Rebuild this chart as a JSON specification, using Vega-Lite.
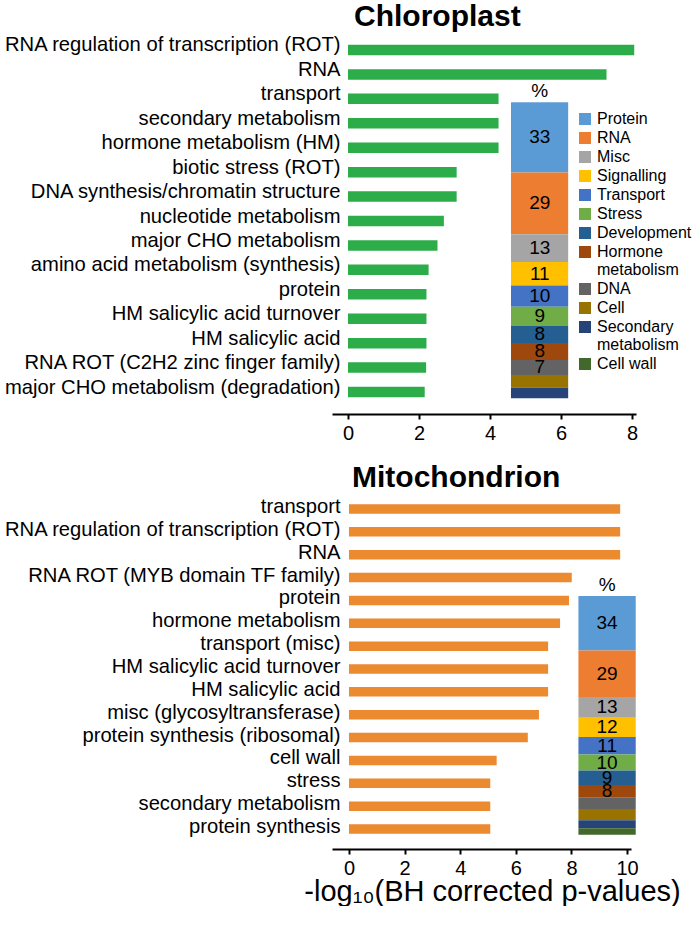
{
  "$schema": "https://vega.github.io/schema/vega-lite/v6.json",
  "padding": {"left": 3, "top": 2, "right": 0, "bottom": 0},
  "background": "white",
  "config": {
    "font": "Liberation Sans",
    "view": {"stroke": null},
    "axis": {"labelColor": "black", "titleColor": "black", "grid": false},
    "title": {"color": "black"}
  },
  "datasets": {
    "chloro": [
      {"term": "RNA regulation of transcription (ROT)", "value": 8.06},
      {"term": "RNA", "value": 7.28},
      {"term": "transport", "value": 4.24},
      {"term": "secondary metabolism", "value": 4.24},
      {"term": "hormone metabolism (HM)", "value": 4.24},
      {"term": "biotic stress (ROT)", "value": 3.06},
      {"term": "DNA synthesis/chromatin structure", "value": 3.06},
      {"term": "nucleotide metabolism", "value": 2.70},
      {"term": "major CHO metabolism", "value": 2.52},
      {"term": "amino acid metabolism (synthesis)", "value": 2.27},
      {"term": "protein", "value": 2.21},
      {"term": "HM salicylic acid turnover", "value": 2.21},
      {"term": "HM salicylic acid", "value": 2.21},
      {"term": "RNA ROT (C2H2 zinc finger family)", "value": 2.20},
      {"term": "major CHO metabolism (degradation)", "value": 2.16}
    ],
    "chloroPct": [
      {"category": "Protein", "rank": 1, "value": 33},
      {"category": "RNA", "rank": 2, "value": 29},
      {"category": "Misc", "rank": 3, "value": 13},
      {"category": "Signalling", "rank": 4, "value": 11},
      {"category": "Transport", "rank": 5, "value": 10},
      {"category": "Stress", "rank": 6, "value": 9},
      {"category": "Development", "rank": 7, "value": 8},
      {"category": "Hormone metabolism", "rank": 8, "value": 8},
      {"category": "DNA", "rank": 9, "value": 7},
      {"category": "Cell", "rank": 10, "value": 6},
      {"category": "Secondary metabolism", "rank": 11, "value": 5}
    ],
    "mito": [
      {"term": "transport", "value": 9.75},
      {"term": "RNA regulation of transcription (ROT)", "value": 9.75},
      {"term": "RNA", "value": 9.75},
      {"term": "RNA ROT (MYB domain TF family)", "value": 8.01},
      {"term": "protein", "value": 7.91},
      {"term": "hormone metabolism", "value": 7.59},
      {"term": "transport (misc)", "value": 7.16},
      {"term": "HM salicylic acid turnover", "value": 7.16},
      {"term": "HM salicylic acid", "value": 7.16},
      {"term": "misc (glycosyltransferase)", "value": 6.83},
      {"term": "protein synthesis (ribosomal)", "value": 6.43},
      {"term": "cell wall", "value": 5.31},
      {"term": "stress", "value": 5.08},
      {"term": "secondary metabolism", "value": 5.08},
      {"term": "protein synthesis", "value": 5.08}
    ],
    "mitoPct": [
      {"category": "Protein", "rank": 1, "value": 34},
      {"category": "RNA", "rank": 2, "value": 29},
      {"category": "Misc", "rank": 3, "value": 13},
      {"category": "Signalling", "rank": 4, "value": 12},
      {"category": "Transport", "rank": 5, "value": 11},
      {"category": "Stress", "rank": 6, "value": 10},
      {"category": "Development", "rank": 7, "value": 9},
      {"category": "Hormone metabolism", "rank": 8, "value": 8},
      {"category": "DNA", "rank": 9, "value": 7},
      {"category": "Cell", "rank": 10, "value": 7},
      {"category": "Secondary metabolism", "rank": 11, "value": 5},
      {"category": "Cell wall", "rank": 12, "value": 4}
    ]
  },
  "spacing": 20,
  "resolve": {"scale": {"color": "independent"}, "legend": {"color": "independent"}},
  "vconcat": [
    {
      "title": {"text": "Chloroplast", "fontSize": 30, "fontWeight": "bold", "anchor": "start", "frame": "group", "dx": 22, "baseline": "alphabetic", "offset": -28},
      "width": 304,
      "height": 386,
      "resolve": {"scale": {"y": "independent"}},
      "layer": [
        {
          "data": {"name": "chloro"},
          "mark": {"type": "bar", "color": "#2DAC4A"},
          "encoding": {
            "y": {"field": "term", "type": "nominal", "sort": null,
                  "scale": {"paddingInner": 0.57, "paddingOuter": 0.685},
                  "axis": {"title": null, "domain": false, "ticks": false, "tickSize": 0, "labelPadding": -8, "labelFontSize": 20.2, "labelOffset": -4.5, "labelLimit": 600}},
            "x": {"field": "value", "type": "quantitative",
                  "scale": {"domain": [-0.45, 8.11], "nice": false, "zero": false},
                  "axis": {"title": null, "values": [0, 2, 4, 6, 8], "domainColor": "black", "domainWidth": 2, "tickColor": "black", "tickWidth": 2, "tickSize": 5, "labelFontSize": 20, "labelPadding": 4}},
            "x2": {"datum": 0}
          }
        },
        {
          "data": {"name": "chloroPct"},
          "layer": [
            {
              "transform": [{"stack": "value", "groupby": [], "sort": [{"field": "rank", "order": "ascending"}], "as": ["y0", "y1"]}],
              "mark": {"type": "rect"},
              "encoding": {
                "x": {"datum": 4.59},
                "x2": {"datum": 6.2},
                "y": {"field": "y0", "type": "quantitative", "scale": {"range": [74.3, 370.3], "nice": false, "zero": true}, "axis": null},
                "y2": {"field": "y1"},
                "color": {"field": "category", "type": "nominal",
                  "scale": {
                    "domain": ["Protein", "RNA", "Misc", "Signalling", "Transport", "Stress", "Development", "Hormone metabolism", "DNA", "Cell", "Secondary metabolism", "Cell wall"],
                    "range": ["#5B9BD5", "#ED7D31", "#A5A5A5", "#FFC000", "#4472C4", "#70AD47", "#255E91", "#9E480E", "#636363", "#997300", "#264478", "#43682B"]
                  },
                  "legend": {"orient": "none", "legendX": 245, "legendY": 83, "title": null, "symbolType": "square", "symbolSize": 144, "symbolStrokeWidth": 0, "labelFontSize": 16, "labelOffset": 4, "rowPadding": 3, "padding": 0, "labelColor": "black", "labelLimit": 300,
                    "labelExpr": "length(datum.label) > 12 ? split(datum.label, ' ') : datum.label"}
                }
              }
            },
            {
              "transform": [
                {"stack": "value", "groupby": [], "sort": [{"field": "rank", "order": "ascending"}], "as": ["y0", "y1"]},
                {"fold": ["y0", "y1"], "as": ["edge", "pos"]},
                {"filter": "datum.value >= 7"}
              ],
              "mark": {"type": "text", "fontSize": 19, "color": "black", "baseline": "middle"},
              "encoding": {
                "x": {"datum": 5.4},
                "y": {"aggregate": "mean", "field": "pos", "type": "quantitative", "axis": null},
                "text": {"field": "value", "type": "quantitative"},
                "detail": {"field": "category", "type": "nominal"}
              }
            },
            {
              "data": {"values": [{"sym": "%"}]},
              "mark": {"type": "text", "fontSize": 19, "color": "black", "baseline": "alphabetic", "dy": -5},
              "encoding": {
                "x": {"datum": 5.4},
                "y": {"datum": 0, "axis": null},
                "text": {"field": "sym", "type": "nominal"}
              }
            }
          ]
        }
      ]
    },
    {
      "title": {"text": "Mitochondrion", "fontSize": 30, "fontWeight": "bold", "anchor": "start", "frame": "group", "dx": 20, "baseline": "alphabetic", "offset": -28},
      "width": 299,
      "height": 360,
      "resolve": {"scale": {"y": "independent"}},
      "layer": [
        {
          "data": {"name": "mito"},
          "mark": {"type": "bar", "color": "#EC8A2F"},
          "encoding": {
            "y": {"field": "term", "type": "nominal", "sort": null,
                  "scale": {"paddingInner": 0.585, "paddingOuter": 0.667},
                  "axis": {"title": null, "domain": false, "ticks": false, "tickSize": 0, "labelPadding": -8, "labelFontSize": 20.2, "labelOffset": -2, "labelLimit": 600}},
            "x": {"field": "value", "type": "quantitative",
                  "scale": {"domain": [-0.61, 10.14], "nice": false, "zero": false},
                  "axis": {"title": "-log₁₀(BH corrected p-values)", "titleFontSize": 29, "titleFontWeight": "normal", "titleX": 160, "titlePadding": -1, "values": [0, 2, 4, 6, 8, 10], "domainColor": "black", "domainWidth": 2, "tickColor": "black", "tickWidth": 2, "tickSize": 5, "labelFontSize": 20, "labelPadding": 4}},
            "x2": {"datum": 0}
          }
        },
        {
          "data": {"name": "mitoPct"},
          "layer": [
            {
              "transform": [{"stack": "value", "groupby": [], "sort": [{"field": "rank", "order": "ascending"}], "as": ["y0", "y1"]}],
              "mark": {"type": "rect"},
              "encoding": {
                "x": {"datum": 8.25},
                "x2": {"datum": 10.31},
                "y": {"field": "y0", "type": "quantitative", "scale": {"range": [107, 345.7], "nice": false, "zero": true}, "axis": null},
                "y2": {"field": "y1"},
                "color": {"field": "category", "type": "nominal",
                  "scale": {
                    "domain": ["Protein", "RNA", "Misc", "Signalling", "Transport", "Stress", "Development", "Hormone metabolism", "DNA", "Cell", "Secondary metabolism", "Cell wall"],
                    "range": ["#5B9BD5", "#ED7D31", "#A5A5A5", "#FFC000", "#4472C4", "#70AD47", "#255E91", "#9E480E", "#636363", "#997300", "#264478", "#43682B"]
                  },
                  "legend": null}
              }
            },
            {
              "transform": [
                {"stack": "value", "groupby": [], "sort": [{"field": "rank", "order": "ascending"}], "as": ["y0", "y1"]},
                {"fold": ["y0", "y1"], "as": ["edge", "pos"]},
                {"filter": "datum.value >= 8"}
              ],
              "mark": {"type": "text", "fontSize": 19, "color": "black", "baseline": "middle"},
              "encoding": {
                "x": {"datum": 9.28},
                "y": {"aggregate": "mean", "field": "pos", "type": "quantitative", "axis": null},
                "text": {"field": "value", "type": "quantitative"},
                "detail": {"field": "category", "type": "nominal"}
              }
            },
            {
              "data": {"values": [{"sym": "%"}]},
              "mark": {"type": "text", "fontSize": 19, "color": "black", "baseline": "alphabetic", "dy": -5},
              "encoding": {
                "x": {"datum": 9.28},
                "y": {"datum": 0, "axis": null},
                "text": {"field": "sym", "type": "nominal"}
              }
            }
          ]
        }
      ]
    }
  ]
}
